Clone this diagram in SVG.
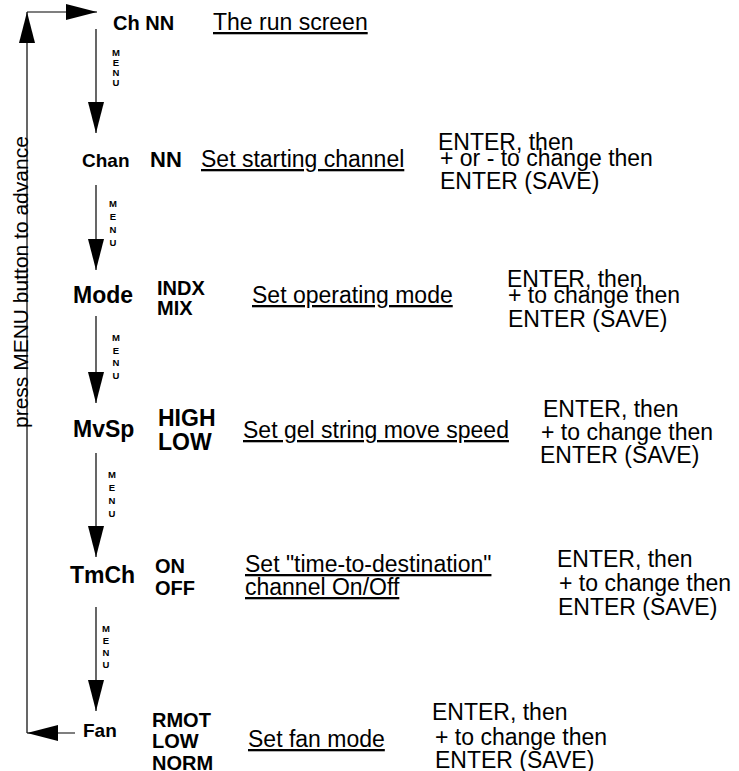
<svg xmlns="http://www.w3.org/2000/svg" width="739" height="771" viewBox="0 0 739 771">
<style>
text{font-family:"Liberation Sans",Arial,sans-serif;fill:#000}
.b{font-weight:bold}
.d{font-size:23px;text-decoration:underline}
.e{font-size:23px}
.m{font-size:9.5px;font-weight:bold;text-anchor:middle}
.c{stroke:#000;stroke-width:1.2;fill:none;marker-end:url(#ah)}
</style>
<defs>
<marker id="ah" markerUnits="userSpaceOnUse" markerWidth="31" markerHeight="16" viewBox="0 0 31 16" refX="31" refY="8" orient="auto">
<path d="M0,0 L31,8 L0,16 z" fill="#000"/>
</marker>
</defs>
<rect width="739" height="771" fill="#fff"/>
<g id="connectors">
<line class="c" x1="75" y1="733" x2="27" y2="733"/>
<line class="c" x1="27" y1="733" x2="27" y2="12"/>
<line class="c" x1="27" y1="12" x2="97" y2="12"/>
<line class="c" x1="96" y1="29" x2="96" y2="133"/>
<line class="c" x1="96" y1="185" x2="96" y2="270"/>
<line class="c" x1="96" y1="316" x2="96" y2="403"/>
<line class="c" x1="96" y1="453" x2="96" y2="557"/>
<line class="c" x1="96" y1="607" x2="96" y2="711"/>
<text class="m" x="116"><tspan x="116" y="56">M</tspan><tspan x="116" y="66">E</tspan><tspan x="116" y="76">N</tspan><tspan x="116" y="86">U</tspan></text>
<text class="m" x="113"><tspan x="113" y="207">M</tspan><tspan x="113" y="220">E</tspan><tspan x="113" y="233">N</tspan><tspan x="113" y="246">U</tspan></text>
<text class="m" x="116"><tspan x="116" y="341">M</tspan><tspan x="116" y="353.5">E</tspan><tspan x="116" y="366">N</tspan><tspan x="116" y="378.5">U</tspan></text>
<text class="m" x="112"><tspan x="112" y="478">M</tspan><tspan x="112" y="491">E</tspan><tspan x="112" y="504">N</tspan><tspan x="112" y="517">U</tspan></text>
<text class="m" x="106"><tspan x="106" y="632">M</tspan><tspan x="106" y="644">E</tspan><tspan x="106" y="656">N</tspan><tspan x="106" y="668">U</tspan></text>
<text x="0" y="0" font-size="21" transform="translate(28,428) rotate(-90)">press MENU button to advance</text>
</g>
<g id="run">
<text class="b" x="113" y="30" font-size="20">Ch NN</text>
<text class="d" x="213" y="30">The run screen</text>
</g>
<g id="chan">
<text class="b" x="82" y="167" font-size="19">Chan</text>
<text class="b" x="150" y="167" font-size="22">NN</text>
<text class="d" x="201" y="167">Set starting channel</text>
<text class="e" x="438" y="150">ENTER, then</text>
<text class="e" x="440" y="166">+ or - to change then</text>
<text class="e" x="440" y="189">ENTER (SAVE)</text>
</g>
<g id="mode">
<text class="b" x="73" y="303" font-size="23">Mode</text>
<text class="b" x="157" y="295" font-size="20">INDX</text>
<text class="b" x="157" y="315" font-size="20">MIX</text>
<text class="d" x="252" y="303">Set operating mode</text>
<text class="e" x="507" y="287">ENTER, then</text>
<text class="e" x="508" y="303">+ to change then</text>
<text class="e" x="508" y="327">ENTER (SAVE)</text>
</g>
<g id="mvsp">
<text class="b" x="73" y="437" font-size="23">MvSp</text>
<text class="b" x="158" y="426" font-size="23">HIGH</text>
<text class="b" x="158" y="450" font-size="23">LOW</text>
<text class="d" x="243" y="438">Set gel string move speed</text>
<text class="e" x="543" y="417">ENTER, then</text>
<text class="e" x="541" y="440">+ to change then</text>
<text class="e" x="540" y="463">ENTER (SAVE)</text>
</g>
<g id="tmch">
<text class="b" x="70" y="583" font-size="23">TmCh</text>
<text class="b" x="155" y="573" font-size="20">ON</text>
<text class="b" x="155" y="595" font-size="20">OFF</text>
<text class="d" x="245" y="572">Set "time-to-destination"</text>
<text class="d" x="245" y="595">channel On/Off</text>
<text class="e" x="557" y="567">ENTER, then</text>
<text class="e" x="559" y="591">+ to change then</text>
<text class="e" x="558" y="615">ENTER (SAVE)</text>
</g>
<g id="fan">
<text class="b" x="83" y="737" font-size="19">Fan</text>
<text class="b" x="152" y="727" font-size="20">RMOT</text>
<text class="b" x="152" y="748" font-size="20">LOW</text>
<text class="b" x="152" y="770" font-size="20">NORM</text>
<text class="d" x="248" y="747">Set fan mode</text>
<text class="e" x="432" y="720">ENTER, then</text>
<text class="e" x="435" y="745">+ to change then</text>
<text class="e" x="435" y="768">ENTER (SAVE)</text>
</g>
</svg>
